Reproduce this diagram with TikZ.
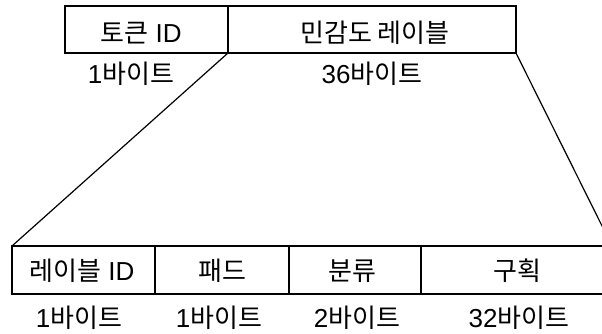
\documentclass[tikz,border=0pt]{standalone}
\usepackage{fontspec}
\setmainfont{Liberation Sans}
\newfontfamily\kr{Noto Sans CJK KR}
\begin{document}
\begin{tikzpicture}[x=1pt,y=-1pt,
  cell/.style={draw,line width=1.4pt},
  lbl/.style={font=\fontsize{26}{28}\selectfont,inner sep=0pt,anchor=base},
  conn/.style={line width=1.2pt}]
\useasboundingbox (0,0) rectangle (602,333);
\begin{scope}
\clip (0,0) rectangle (602,333);
% top boxes
\coordinate (t1) at (228,53);
\coordinate (t2) at (516,53);
\draw[cell] (65,6) rectangle (228,53);
\draw[cell] (228,6) rectangle (516,53);
% bottom boxes
\draw[cell] (12,246) rectangle (155,294);
\draw[cell] (155,246) rectangle (289,294);
\draw[cell] (289,246) rectangle (421,294);
\draw[cell] (421,246) rectangle (612,294);
\coordinate (b1) at (12,246);
\coordinate (b2) at (612,246);
\draw[conn] (t1) -- (b1);
\draw[conn] (t2) -- (b2);
\end{scope}
% labels
\node[lbl] (l1) at (141,42) {{\kr 토큰} ID};
\node[lbl] (l2) at (375,42) {\kr 민감도 레이블};
\node[lbl] (l3) at (131,83) {1{\kr 바이트}};
\node[lbl] (l4) at (372,83) {36{\kr 바이트}};
\node[lbl] (m1) at (82,280) {{\kr 레이블} ID};
\node[lbl] (m2) at (222,280) {\kr 패드};
\node[lbl] (m3) at (352,280) {\kr 분류};
\node[lbl] (m4) at (517,280) {\kr 구획};
\node[lbl] (n1) at (79,327) {1{\kr 바이트}};
\node[lbl] (n2) at (219,327) {1{\kr 바이트}};
\node[lbl] (n3) at (357,327) {2{\kr 바이트}};
\node[lbl] (n4) at (519,327) {32{\kr 바이트}};
\end{tikzpicture}
\end{document}
